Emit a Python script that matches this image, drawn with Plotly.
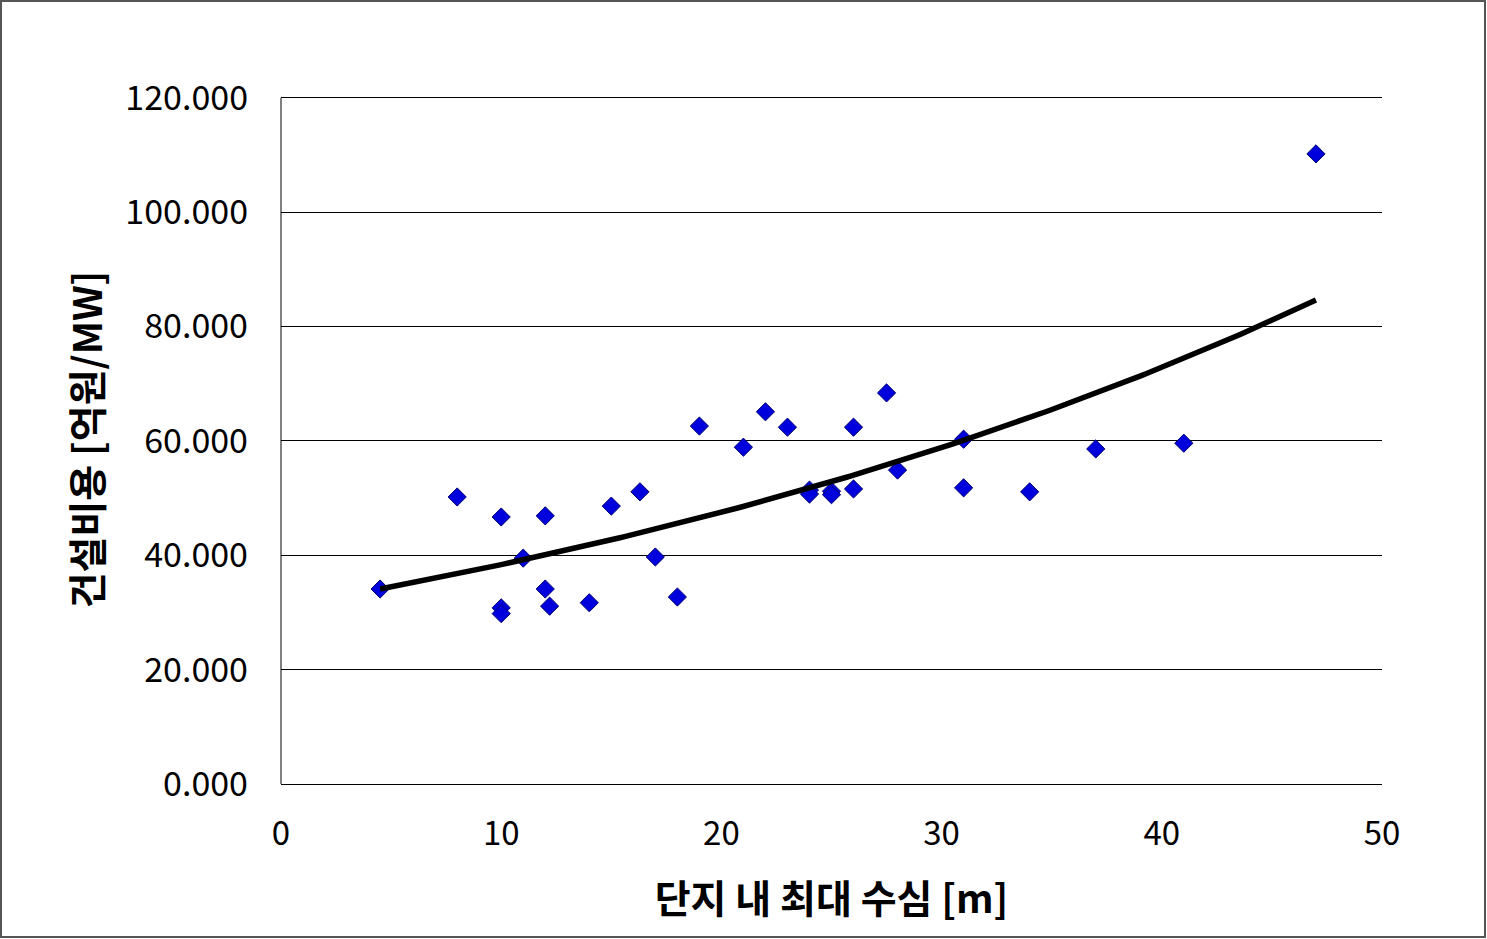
import numpy as np
import plotly.graph_objects as go

# Data: max water depth in site [m] vs. construction cost [억원/MW]
depth = [4.5, 8.0, 10.0, 10.0, 10.0, 11.0, 12.0, 12.0, 12.2, 14.0, 15.0, 16.3, 17.0, 18.0,
         19.0, 21.0, 22.0, 23.0, 24.0, 24.0, 25.0, 25.0, 26.0, 26.0, 27.5, 28.0, 31.0, 31.0,
         34.0, 37.0, 41.0, 47.0]
cost = [34.1, 50.2, 46.7, 30.8, 29.8, 39.5, 46.9, 34.1, 31.1, 31.7, 48.6, 51.1, 39.7, 32.7,
        62.6, 58.9, 65.1, 62.4, 51.4, 50.7, 51.2, 50.6, 51.6, 62.4, 68.4, 54.9, 60.3, 51.8,
        51.1, 58.6, 59.6, 110.2]

y_ticks = [0, 20, 40, 60, 80, 100, 120]
y_tick_labels = ["0.000", "20.000", "40.000", "60.000", "80.000", "100.000", "120.000"]
x_ticks = [0, 10, 20, 30, 40, 50]

# Exponential trendline (least squares on ln y, as in a spreadsheet exponential trendline)
b, ln_a = np.polyfit(np.array(depth), np.log(np.array(cost)), 1)
xs = np.linspace(min(depth), max(depth), 200)
ys = np.exp(ln_a) * np.exp(b * xs)

W, H = 1487, 939
L, R, T, B = 281, 1382, 95, 784

fig = go.Figure()
fig.add_trace(go.Scatter(
    x=depth, y=cost, mode="markers",
    marker=dict(symbol="diamond", size=14, color="#0000DD",
                line=dict(color="#000070", width=1)),
    showlegend=False, hoverinfo="x+y"))
fig.add_trace(go.Scatter(
    x=xs, y=ys, mode="lines", line=dict(color="black", width=5.5),
    showlegend=False, hoverinfo="skip"))

font_family = "Noto Sans CJK KR, Noto Sans, sans-serif"

fig.update_layout(
    width=W, height=H,
    margin=dict(l=L, r=W - R, t=T, b=H - B, autoexpand=False),
    paper_bgcolor="white", plot_bgcolor="white",
    font=dict(family=font_family, color="black", size=34),
    xaxis=dict(range=[0, 50], tickvals=x_ticks, showgrid=False, zeroline=False,
               showline=True, linecolor="black", linewidth=1, ticks="",
               ticklabelstandoff=20,
               tickfont=dict(size=33),
               title=dict(text="<b>단지 내 최대 수심 [m]</b>", standoff=32,
                          font=dict(size=39))),
    yaxis=dict(range=[0, 120.5], tickvals=y_ticks, ticktext=y_tick_labels,
               showgrid=True, gridcolor="black", gridwidth=1, zeroline=False,
               showline=False, ticks="",
               ticklabelstandoff=32,
               tickfont=dict(size=34),
               title=dict(text="<b>건설비용 [억원/MW]</b>", standoff=10,
                          font=dict(size=39))),
)

# y axis line spanning only the gridded range (0..120), like the reference
fig.add_shape(type="line", xref="paper", yref="y", x0=0, x1=0, y0=0, y1=y_ticks[-1],
              line=dict(color="black", width=1))

# outer chart frame
pw, ph = R - L, B - T
fig.add_shape(type="rect", xref="paper", yref="paper",
              x0=(1 - L) / pw, x1=(W - 2 - L) / pw,
              y0=(B - (H - 2)) / ph, y1=(B - 1) / ph,
              line=dict(color="#555555", width=2), fillcolor="rgba(0,0,0,0)", layer="below")

fig.write_html("out.html")
